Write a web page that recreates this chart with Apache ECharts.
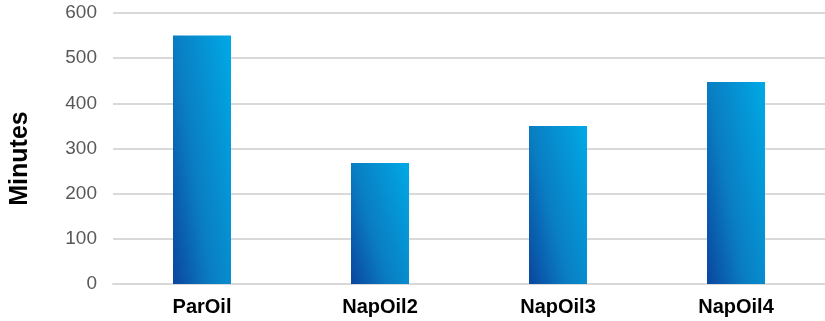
<!DOCTYPE html>
<html>
<head>
<meta charset="utf-8">
<script src="https://cdn.jsdelivr.net/npm/echarts@6/dist/echarts.min.js"></script>
<style>
html,body{margin:0;padding:0;background:#fff;}
#c{width:825px;height:321px;}
</style>
</head>
<body>
<div id="c"></div>
<script>
const categories = ['ParOil', 'NapOil2', 'NapOil3', 'NapOil4'];
const minutes = [550, 268, 350, 447];
const yTicks = {min: 0, max: 600, interval: 100};

const BAR_W = 58;
const chart = echarts.init(document.getElementById('c'), null, {renderer: 'canvas'});

function barGradient(h) {
  // diagonal gradient whose isolines keep the same slope in bar-relative units
  const dx = 0.65 * BAR_W;
  const s2 = h * h + dx * dx;
  const L = (BAR_W + dx) * h;
  const x2 = (L * h / s2) / BAR_W;
  const y2 = 1 - (L * dx / s2) / h;
  return new echarts.graphic.LinearGradient(0, 1, x2, y2, [
    {offset: 0, color: '#0a469f'},
    {offset: 0.4, color: '#0a7dc2'},
    {offset: 1, color: '#00a9e6'}
  ]);
}

const option = {
  animation: false,
  backgroundColor: '#ffffff',
  grid: {left: 112, right: -5, top: 13, bottom: 37, containLabel: false},
  xAxis: {
    type: 'category',
    data: categories,
    axisLine: {show: true, lineStyle: {color: '#d9d9d9', width: 2}},
    axisTick: {show: false},
    axisLabel: {color: '#000', fontFamily: 'Liberation Sans', fontWeight: 'bold', fontSize: 20, margin: 13}
  },
  yAxis: {
    type: 'value',
    min: yTicks.min, max: yTicks.max, interval: yTicks.interval,
    name: 'Minutes',
    nameLocation: 'middle',
    nameGap: 80,
    nameTextStyle: {color: '#000', fontFamily: 'Liberation Sans', fontWeight: 'bold', fontSize: 25, padding: [0, 20, 0, 0]},
    axisLine: {show: false},
    axisTick: {show: false},
    splitLine: {lineStyle: {color: '#d9d9d9', width: 2}},
    axisLabel: {color: '#595959', fontFamily: 'Liberation Sans', fontSize: 19, margin: 16}
  },
  series: [{
    type: 'bar',
    data: minutes,
    barWidth: BAR_W,
    itemStyle: {color: '#0a7bc1'}
  }]
};
chart.setOption(option);

const y0 = chart.convertToPixel({gridIndex: 0}, [0, 0])[1];
option.series[0].data = minutes.map(function (v, i) {
  const h = Math.max(1, y0 - chart.convertToPixel({gridIndex: 0}, [i, v])[1]);
  return {value: v, itemStyle: {color: barGradient(h)}};
});
chart.setOption(option);
</script>
</body>
</html>
